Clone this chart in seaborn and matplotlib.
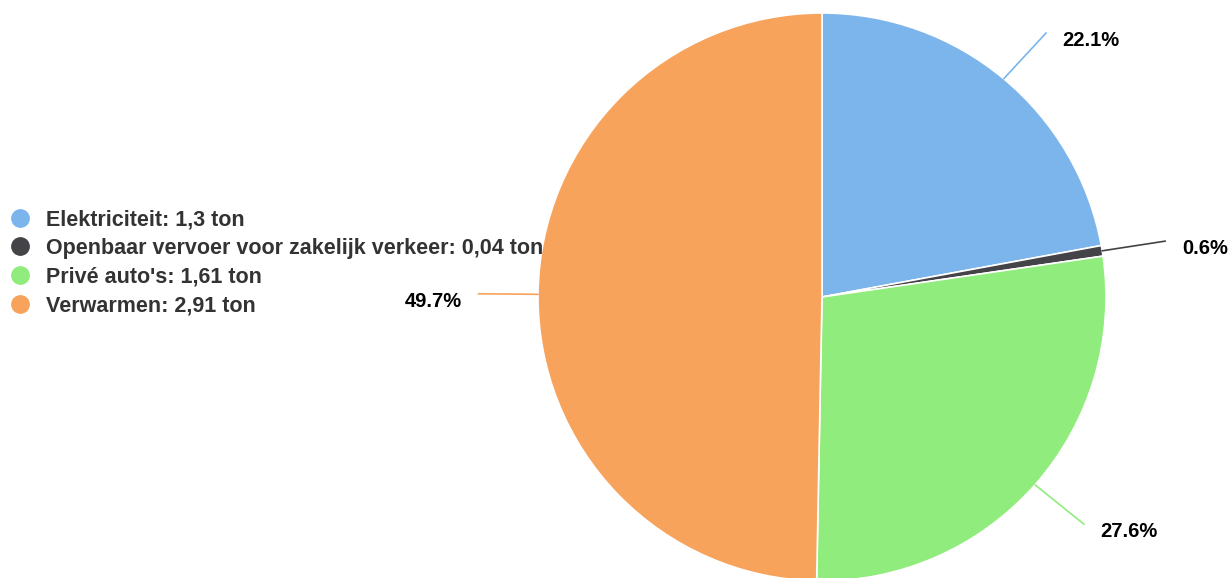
import numpy as np
import matplotlib.pyplot as plt
import seaborn as sns
from matplotlib.lines import Line2D

# 데이터
categories = ['Elektriciteit', 'Openbaar vervoer voor zakelijk verkeer', "Privé auto's", 'Verwarmen']
tons = ['1,3', '0,04', '1,61', '2,91']
percents = [22.1, 0.6, 27.6, 49.7]
colors = ['#7cb5ec', '#434348', '#90ed7d', '#f7a35c']

sns.set_theme(style='white')
plt.rcParams['font.family'] = ['Liberation Sans', 'DejaVu Sans']

fig = plt.figure(figsize=(12.3, 5.78), dpi=100)

# 파이 영역 (중심 822,297 px / 반지름 284 px)
cx, cy, r = 822, 297, 284
ax = fig.add_axes([(cx - r) / 1230, (578 - cy - r) / 578, 2 * r / 1230, 2 * r / 578])
wedges, _ = ax.pie(percents, colors=colors, startangle=90, counterclock=False,
                   radius=1, wedgeprops=dict(edgecolor='white', linewidth=1.2))
ax.set_xlim(-1, 1)
ax.set_ylim(-1, 1)
ax.set_aspect('equal')
ax.set_axis_off()

# 라벨 + 연결선
cum = 0
for p, c in zip(percents, colors):
    mid = np.deg2rad(90 - (cum + p / 2) * 3.6)
    cum += p
    ex, ey = np.cos(mid), np.sin(mid)
    kx, ky = 1.21 * ex, 1.21 * ey
    if kx >= 0:
        kx += 0.015
    ax.plot([ex, kx], [ey, ky], color=c, lw=1.2, clip_on=False)
    side = 1 if kx >= 0 else -1
    ax.text(kx + side * 0.058, ky - 0.026, f'{p}%', ha='left' if side > 0 else 'right',
            va='center', fontsize=14.5, fontweight='bold', color='black', clip_on=False)

# 범례
handles = [Line2D([0], [0], marker='o', linestyle='', markersize=12.5,
                  markerfacecolor=c, markeredgecolor=c) for c in colors]
labels = [f'{n}: {t} ton' for n, t in zip(categories, tons)]
leg = fig.legend(handles, labels, loc='center left', bbox_to_anchor=(0.0005, 1 - 263 / 578),
                 frameon=False, handletextpad=0.69, labelspacing=0.37, handlelength=1.0,
                 borderaxespad=0, prop=dict(weight='bold', size=15.5))
for t in leg.get_texts():
    t.set_color('#333333')

plt.savefig('out.png', dpi=100)
